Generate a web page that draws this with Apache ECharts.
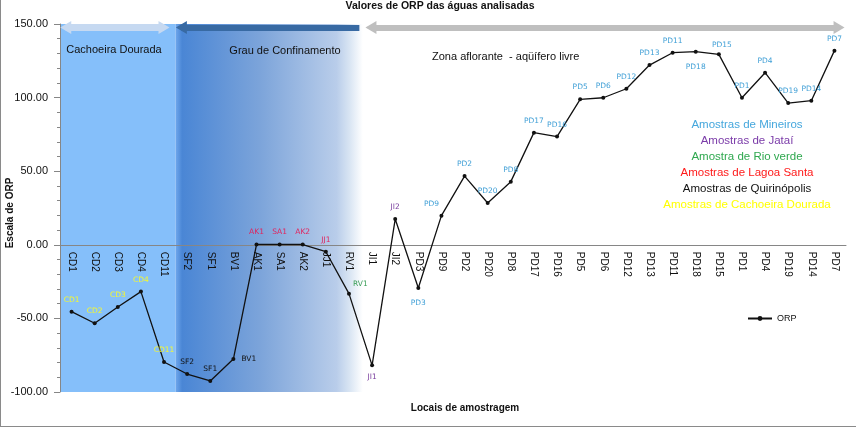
<!DOCTYPE html>
<html>
<head>
<meta charset="utf-8">
<script src="https://cdn.jsdelivr.net/npm/echarts@6/dist/echarts.min.js"></script>
<style>
html,body{margin:0;padding:0;background:#fff;}
#c{position:absolute;left:0;top:0;width:857px;height:428px;}
#frame{position:absolute;left:0;top:0;width:856px;height:427px;border-left:1px solid #8a8a8a;border-bottom:1px solid #8a8a8a;box-sizing:border-box;pointer-events:none;}
</style>
</head>
<body>
<div id="c"></div>
<div id="frame"></div>
<script>
// ---- data ----
const categories = ['CD1','CD2','CD3','CD4','CD11','SF2','SF1','BV1','AK1','SA1','AK2','JJ1','RV1','JI1','JI2','PD3','PD9','PD2','PD20','PD8','PD17','PD16','PD5','PD6','PD12','PD13','PD11','PD18','PD15','PD1','PD4','PD19','PD14','PD7'];
const orpValues = [-45.4,-53.3,-42.3,-31.8,-79.6,-87.8,-92.5,-77.6,0.2,0.2,0.2,-4.7,-33.2,-81.9,17.5,-29.3,19.8,46.7,28.4,42.9,76.2,73.5,98.8,99.9,106.0,122.1,130.5,131.2,129.4,99.9,116.9,96.3,97.9,131.9];
const groups = ['CD','CD','CD','CD','CD','QU','QU','QU','LS','LS','LS','LS','RV','JA','JA','MI','MI','MI','MI','MI','MI','MI','MI','MI','MI','MI','MI','MI','MI','MI','MI','MI','MI','MI'];
const yTicks = [-100, -50, 0, 50, 100, 150];
const noteLines = [
  ['MI','Amostras de Mineiros'],
  ['JA','Amostras de Jataí'],
  ['RV','Amostra de Rio verde'],
  ['LS','Amostras de Lagoa Santa'],
  ['QU','Amostras de Quirinópolis'],
  ['CD','Amostras de Cachoeira Dourada']
];
const regionNames = ['Cachoeira Dourada','Grau de Confinamento','Zona aflorante  - aqüífero livre'];
const titleText = 'Valores de ORP das águas analisadas';
const xName = 'Locais de amostragem';
const yName = 'Escala de ORP';
const seriesName = 'ORP';

// ---- styles / layout ----
const groupColor = {CD:'#f5f830', QU:'#111111', LS:'#e0245e', RV:'#3a9e57', JA:'#7a3f9e', MI:'#3f9fd6'};
const noteColor = {CD:'#ffff00', QU:'#111111', LS:'#ff1a1a', RV:'#2fa84f', JA:'#7a3aa8', MI:'#45a7dd'};
const labelPlace = {
  'BV1':{position:'right', distance:6},
  'RV1':{position:'right', distance:2, offset:[0,-10]},
  'JI1':{position:'bottom', distance:6},
  'PD3':{position:'bottom', distance:9},
  'PD18':{position:'bottom', distance:9},
  'PD9':{position:'top', distance:6, offset:[-10,0]},
  'PD15':{position:'top', distance:3, offset:[3,0]}
};
const G = {left:60, right:11, top:24, bottom:36};
const yMin = -100, yMax = 150;
const plotH = 428 - G.top - G.bottom;
const zeroOffset = -plotH * (0 - yMin) / (yMax - yMin); // moves category axis up to the zero line

const chart = echarts.init(document.getElementById('c'), null, {renderer:'canvas'});
const N = categories.length;

const lineData = orpValues.map((v,i)=>{
  const p = labelPlace[categories[i]] || {position:'top', distance:6};
  return {value:v, label:Object.assign({show:true, formatter:categories[i], color:groupColor[groups[i]]}, p)};
});

const bgGrad = new echarts.graphic.LinearGradient(0,0,1,0,[
  {offset:0, color:'#6ea7ec'},
  {offset:0.035, color:'#4a86d5'},
  {offset:0.45, color:'#7ca4da'},
  {offset:0.86, color:'#b9cdea'},
  {offset:0.93, color:'#d9e5f3'},
  {offset:1, color:'#ffffff'}
]);

const arrowY = 147.6;

const option = {
  animation:false,
  backgroundColor:'#ffffff',
  textStyle:{fontFamily:'Liberation Sans'},
  title:{text:titleText, left:435, top:-4, textAlign:'center',
    textStyle:{fontSize:10.5, fontWeight:'bold', color:'#111', fontFamily:'Liberation Sans'}},
  legend:{data:[seriesName], left:742, top:309, itemWidth:24, itemHeight:6, itemGap:4,
    textStyle:{fontSize:9, color:'#111', fontFamily:'Liberation Sans'}},
  grid:{left:G.left, right:G.right, top:G.top, bottom:G.bottom, containLabel:false, outerBoundsMode:'none'},
  xAxis:[
    {type:'category', data:categories, boundaryGap:true, z:3, position:'bottom', offset:zeroOffset,
      axisLine:{onZero:false, lineStyle:{color:'#868686', width:1}},
      axisTick:{show:false},
      axisLabel:{rotate:-90, interval:0, fontSize:10, color:'#111', margin:7, fontFamily:'Liberation Sans'},
      splitLine:{show:false}},
    {type:'value', min:0, max:N, show:false}
  ],
  yAxis:{type:'value', min:yMin, max:yMax, interval:50, z:3,
    axisLine:{show:true, lineStyle:{color:'#868686'}},
    axisTick:{show:true, inside:false, length:6, lineStyle:{color:'#868686'}},
    minorTick:{show:true, splitNumber:5, length:3, lineStyle:{color:'#868686'}},
    splitLine:{show:false},
    axisLabel:{fontSize:11, color:'#111', margin:12, formatter:v=>yTicks.indexOf(v)>=0 ? v.toFixed(2) : ''}
  },
  series:[
    {type:'line', xAxisIndex:1, data:[], z:0, silent:true,
      markArea:{silent:true, z:0,
        data:[
          [{xAxis:0, yAxis:yMax, itemStyle:{color:'#85bffa'}},{xAxis:5, yAxis:yMin}],
          [{xAxis:5, yAxis:yMax, itemStyle:{color:bgGrad}},{xAxis:13.1, yAxis:yMin}]
        ]},
      markLine:{silent:true, z:4, symbol:['triangle','triangle'], symbolSize:[13,11],
        label:{show:false},
        data:[
          [{coord:[0.25,arrowY], lineStyle:{color:'#c6d9f1', width:7, type:'solid'}, symbol:'triangle'},{coord:[4.5,arrowY], symbol:'triangle'}],
          [{coord:[5.25,arrowY], lineStyle:{color:'#386aa3', width:6, type:'solid'}, symbol:'triangle'},{coord:[12.95,arrowY], symbol:'none'}],
          [{coord:[13.45,arrowY], lineStyle:{color:'#bfbfbf', width:6, type:'solid'}, symbol:'triangle'},{coord:[33.7,arrowY], symbol:'triangle'}]
        ]}
    },
    {name:seriesName, type:'line', data:lineData, z:5,
      symbol:'circle', symbolSize:4,
      itemStyle:{color:'#111'},
      lineStyle:{color:'#111', width:1.3},
      label:{show:true, fontSize:7.5, fontFamily:'DejaVu Sans'}
    }
  ],
  graphic:[
    {type:'text', style:{text:regionNames[0], x:114, y:44, fontSize:11, fill:'#111', fontFamily:'Liberation Sans', textAlign:'center'}, z:10},
    {type:'text', style:{text:regionNames[1], x:285, y:45, fontSize:11, fill:'#111', fontFamily:'Liberation Sans', textAlign:'center'}, z:10},
    {type:'text', style:{text:regionNames[2], x:432, y:51, fontSize:11, fill:'#111', fontFamily:'Liberation Sans', textAlign:'left'}, z:10},
    {type:'text', style:{text:xName, x:465, y:403, fontSize:10, fontWeight:'bold', fill:'#111', fontFamily:'Liberation Sans', textAlign:'center'}, z:10},
    {type:'text', x:5, y:213, rotation:Math.PI/2, z:10,
      style:{text:yName, x:0, y:0, fontSize:10, fontWeight:'bold', fill:'#111', fontFamily:'Liberation Sans', textAlign:'center', textVerticalAlign:'top'}}
  ].concat(noteLines.map((n,i)=>({type:'text', z:10,
    style:{text:n[1], x:747, y:119+i*16, fontSize:11.5, fill:noteColor[n[0]], fontFamily:'Liberation Sans', textAlign:'center'}})))
};
chart.setOption(option);
</script>
</body>
</html>
